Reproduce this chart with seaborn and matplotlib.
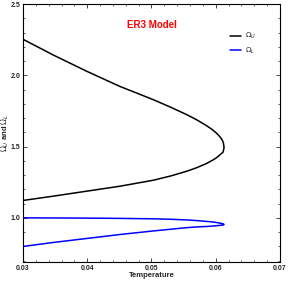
import matplotlib
matplotlib.use("Agg")
import matplotlib.pyplot as plt
import seaborn as sns
from matplotlib.ticker import MultipleLocator, FormatStrFormatter

# Omega_U curve (closed path: upper branch then lower branch)
temp_u = [0.0300, 0.0347, 0.0399, 0.0451, 0.0503, 0.0530, 0.0555, 0.0570, 0.0585, 0.0595,
          0.0600, 0.0604, 0.0607, 0.0609, 0.0611, 0.0612, 0.0613,
          0.0612, 0.0611, 0.0609, 0.0607, 0.0604, 0.0600, 0.0595, 0.0585, 0.0570,
          0.0555, 0.0530, 0.0503, 0.0451, 0.0399, 0.0347, 0.0300]
omega_u = [2.253, 2.143, 2.029, 1.922, 1.829, 1.776, 1.724, 1.689, 1.649, 1.618,
           1.599, 1.582, 1.566, 1.554, 1.538, 1.524, 1.495,
           1.470, 1.458, 1.452, 1.444, 1.432, 1.418, 1.404, 1.380, 1.351,
           1.327, 1.294, 1.264, 1.222, 1.187, 1.152, 1.122]

# Omega_L curve
temp_l = [0.0300, 0.0399, 0.0451, 0.0503, 0.0530, 0.0555, 0.0570, 0.0585, 0.0595, 0.0600,
          0.0604, 0.0609, 0.0612, 0.0613,
          0.0612, 0.0609, 0.0604, 0.0600, 0.0595, 0.0585, 0.0570, 0.0555, 0.0503, 0.0451,
          0.0399, 0.0347, 0.0300]
omega_l = [1.000, 0.998, 0.996, 0.993, 0.990, 0.985, 0.981, 0.975, 0.971, 0.968,
           0.965, 0.961, 0.957, 0.953,
           0.950, 0.948, 0.946, 0.944, 0.942, 0.939, 0.936, 0.931, 0.908, 0.883,
           0.855, 0.827, 0.799]

sns.set_style("ticks")
plt.rcParams['font.family'] = ['Liberation Sans', 'DejaVu Sans']

fig = plt.figure(figsize=(2.88, 2.84), dpi=100)
ax = fig.add_axes([0.08, 0.0775, 0.892, 0.908])

sns.lineplot(x=temp_u, y=omega_u, sort=False, estimator=None, color='black', lw=1.1,
             ax=ax, label=r'$\Omega_U$')
sns.lineplot(x=temp_l, y=omega_l, sort=False, estimator=None, color='blue', lw=1.1,
             ax=ax, label=r'$\Omega_L$')

ax.set_xlim(0.03, 0.07)
ax.set_ylim(0.69, 2.5)
ax.xaxis.set_major_locator(MultipleLocator(0.01))
ax.xaxis.set_minor_locator(MultipleLocator(0.002))
ax.yaxis.set_major_locator(MultipleLocator(0.5))
ax.yaxis.set_minor_locator(MultipleLocator(0.1))
ax.xaxis.set_major_formatter(FormatStrFormatter('%.2f'))
ax.yaxis.set_major_formatter(FormatStrFormatter('%.1f'))
ax.tick_params(which='both', direction='in', top=True, right=True, labelsize=5, pad=2)
ax.tick_params(which='major', length=3, width=0.6)
ax.tick_params(which='minor', length=1.5, width=0.5)
for lab in ax.get_xticklabels() + ax.get_yticklabels():
    lab.set_fontweight('bold')
for s in ax.spines.values():
    s.set_linewidth(0.8)
    s.set_color('black')

ax.set_xlabel('Temperature', fontsize=5.5, fontweight='bold')
ax.set_ylabel(r'$\Omega_U$ and $\Omega_L$', fontsize=5.5, fontweight='bold')
ax.xaxis.set_label_coords(0.5, -0.038)
ax.yaxis.set_label_coords(-0.045, 0.5)

ax.text(0.0501, 2.353, 'ER3 Model', color='red', fontsize=7, fontweight='bold',
        ha='center', va='center')

leg = ax.legend(loc='upper right', bbox_to_anchor=(0.93, 0.92), frameon=False, fontsize=5,
                handlelength=1.6, labelspacing=0.6, handletextpad=0.5)

fig.savefig('out.png', dpi=100)
